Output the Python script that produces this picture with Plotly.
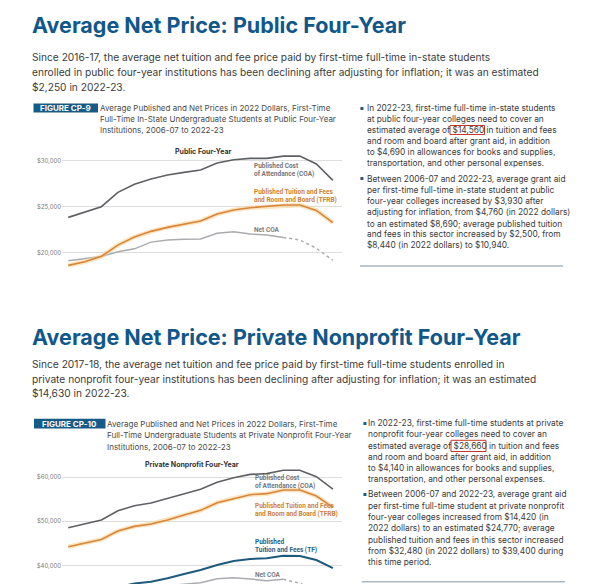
import plotly.graph_objects as go

W, H = 600, 584

years = ["2006-07", "2007-08", "2008-09", "2009-10", "2010-11", "2011-12", "2012-13",
         "2013-14", "2014-15", "2015-16", "2016-17", "2017-18", "2018-19", "2019-20",
         "2020-21", "2021-22", "2022-23"]

# Public four-year (2022 dollars)
pub_coa = [23840, 24420, 25000, 26560, 27430, 28010, 28440, 28730, 28990, 29750, 30110,
           30250, 30250, 30500, 30500, 29640, 27860]
pub_tfrb = [18620, 19020, 19600, 20830, 21700, 22320, 22750, 23120, 23440, 24200, 24640,
            24890, 25000, 25180, 25180, 24600, 23260]
pub_net = [19120, 19350, 19580, 20110, 20420, 21150, 21380, 21460, 21500, 22120, 22290,
           22040, 21920, 21660, 21380, 20480, 19180]

# Private nonprofit four-year (2022 dollars)
priv_coa = [48520, 49430, 50260, 52380, 53510, 54110, 55170, 56300, 57210, 58790, 59850,
            60600, 60760, 61510, 61510, 60080, 57280]
priv_tfrb = [44220, 45130, 45880, 47770, 48830, 49360, 50260, 51390, 52450, 54190, 55170,
             56000, 56230, 57060, 57060, 55700, 53130]
priv_tf = [32480, 33200, 33900, 35100, 35900, 36310, 37080, 38050, 38960, 40090, 41000,
           41450, 41600, 42200, 42130, 41220, 39390]
priv_net = [34100, 34300, 34500, 34700, 34900, 35100, 35400, 35750, 36090, 36990, 37220,
            36920, 36540, 36850, 35950, 34400, 32500]

net_est_start = 13  # first year drawn as estimate (dotted)

pub_ticks = [20000, 25000, 30000]
pub_ticktext = ["$20,000", "$25,000", "$30,000"]
priv_ticks = [40000, 50000, 60000]
priv_ticktext = ["$40,000", "$50,000", "$60,000"]

C_COA = "#5e6064"
C_TFRB = "#d7863b"
C_GLOW = "rgba(248,206,140,0.55)"
C_NET = "#a9abae"
C_TF = "#1d5a7c"
C_TITLE = "#11578a"
C_TEXT = "#3b3b3b"
BODY = "Inter"
COND = "Liberation Sans Narrow, Roboto"


def px(x):
    return x / W


def py(y):
    return 1 - y / H


fig = go.Figure()


def line(xv, yv, color, width, xa, ya, dash="solid"):
    fig.add_trace(go.Scatter(x=xv, y=yv, mode="lines", xaxis=xa, yaxis=ya,
                             line=dict(color=color, width=width, dash=dash),
                             hoverinfo="skip", showlegend=False))


# top chart
line(years[:net_est_start + 1], pub_net[:net_est_start + 1], C_NET, 1.5, "x", "y")
line(years[net_est_start:], pub_net[net_est_start:], C_NET, 1.5, "x", "y", "dot")
line(years, pub_tfrb, C_GLOW, 4.5, "x", "y")
line(years, pub_tfrb, C_TFRB, 1.6, "x", "y")
line(years, pub_coa, C_COA, 1.6, "x", "y")

# bottom chart
line(years[:net_est_start + 1], priv_net[:net_est_start + 1], C_NET, 1.5, "x2", "y2")
line(years[net_est_start:], priv_net[net_est_start:], C_NET, 1.5, "x2", "y2", "dot")
line(years, priv_tf, C_TF, 2.0, "x2", "y2")
line(years, priv_tfrb, C_GLOW, 4.5, "x2", "y2")
line(years, priv_tfrb, C_TFRB, 1.6, "x2", "y2")
line(years, priv_coa, C_COA, 1.6, "x2", "y2")

xcommon = dict(type="category", range=[-0.38, 16.55], showticklabels=False, showgrid=False,
               zeroline=False, showline=False, ticks="", domain=[px(62), px(342)])
ycommon = dict(showline=False, zeroline=False, ticks="", gridcolor="#dedede", gridwidth=1,
               tickfont=dict(family=BODY, size=6, color="#7a7a7a"))

fig.update_layout(
    width=W, height=H, margin=dict(l=0, r=0, t=0, b=0),
    paper_bgcolor="white", plot_bgcolor="white", hovermode=False,
    xaxis=dict(xcommon, anchor="y"),
    yaxis=dict(ycommon, anchor="x", domain=[py(270), py(155)], range=[18120, 30620],
               tickvals=pub_ticks, ticktext=pub_ticktext),
    xaxis2=dict(xcommon, anchor="y2"),
    yaxis2=dict(ycommon, anchor="x2", domain=[0, py(467)], range=[35792, 62262],
                tickvals=priv_ticks, ticktext=priv_ticktext),
)

anns = []


def ann(x, y, text, size, color, family=BODY, bold=False, xanchor="left"):
    anns.append(dict(x=px(x), y=py(y), xref="paper", yref="paper", text=text,
                     showarrow=False, xanchor=xanchor, yanchor="middle",
                     font=dict(family=family, size=size, color=color,
                               weight=700 if bold else 400)))


# Titles
ann(30, 25, "Average Net Price: Public Four-Year", 21.5, C_TITLE, bold=True)
ann(30, 337, "Average Net Price: Private Nonprofit Four-Year", 21.5, C_TITLE, bold=True)

# Intro paragraphs
p1 = ["Since 2016-17, the average net tuition and fee price paid by first-time full-time in-state students",
      "enrolled in public four-year institutions has been declining after adjusting for inflation; it was an estimated",
      "$2,250 in 2022-23."]
for i, t in enumerate(p1):
    ann(30, 56.6 + 15 * i, t, 10.2, C_TEXT)
p2 = ["Since 2017-18, the average net tuition and fee price paid by first-time full-time students enrolled in",
      "private nonprofit four-year institutions has been declining after adjusting for inflation; it was an estimated",
      "$14,630 in 2022-23."]
for i, t in enumerate(p2):
    ann(30, 363.5 + 15 * i, t, 10.2, C_TEXT)

# Figure labels
shapes = []
shapes.append(dict(type="rect", xref="paper", yref="paper", x0=px(33.5), x1=px(98),
                   y0=py(112.5), y1=py(103.5), fillcolor="#165a87", line=dict(width=0)))
shapes.append(dict(type="rect", xref="paper", yref="paper", x0=px(34), x1=px(105.5),
                   y0=py(428.5), y1=py(418.8), fillcolor="#165a87", line=dict(width=0)))
ann(65.75, 108.2, "FIGURE CP-9", 8, "white", bold=True, xanchor="center")
ann(69.75, 423.6, "FIGURE CP-10", 8, "white", bold=True, xanchor="center")

cap1 = ["Average Published and Net Prices in 2022 Dollars, First-Time",
        "Full-Time In-State Undergraduate Students at Public Four-Year",
        "Institutions, 2006-07 to 2022-23"]
for i, t in enumerate(cap1):
    ann(98, 108.3 + 11 * i, t, 8, "#4a4a4a")
cap2 = ["Average Published and Net Prices in 2022 Dollars, First-Time",
        "Full-Time Undergraduate Students at Private Nonprofit Four-Year",
        "Institutions, 2006-07 to 2022-23"]
for i, t in enumerate(cap2):
    ann(105.3, 423.5 + 11.8 * i, t, 8, "#4a4a4a")

# Chart titles
ann(203, 152, "Public Four-Year", 7, "#333333", bold=True, xanchor="center")
ann(192, 464, "Private Nonprofit Four-Year", 7, "#333333", bold=True, xanchor="center")

# Series labels
ann(252, 165.7, "Published Cost", 6.5, "#75767a", COND, True)
ann(252, 174.3, "of Attendance (COA)", 6.5, "#75767a", COND, True)
ann(252, 191.7, "Published Tuition and Fees", 6.5, "#cf7f36", COND, True)
ann(252, 200.3, "and Room and Board (TFRB)", 6.5, "#cf7f36", COND, True)
ann(252, 229.7, "Net COA", 6.5, "#7d7e81", COND, True)

ann(253, 478, "Published Cost", 6.5, "#75767a", COND, True)
ann(253, 485.7, "of Attendance (COA)", 6.5, "#75767a", COND, True)
ann(253, 505.7, "Published Tuition and Fees", 6.5, "#cf7f36", COND, True)
ann(253, 513.7, "and Room and Board (TFRB)", 6.5, "#cf7f36", COND, True)
ann(253, 542.3, "Published", 6.5, "#1f5f86", COND, True)
ann(253, 550.3, "Tuition and Fees (TF)", 6.5, "#1f5f86", COND, True)
ann(253, 575, "Net COA", 6.5, "#7d7e81", COND, True)

# Bullets
b1 = ["In 2022-23, first-time full-time in-state students",
      "at public four-year colleges need to cover an",
      "estimated average of $14,560 in tuition and fees",
      "and room and board after grant aid, in addition",
      "to $4,690 in allowances for books and supplies,",
      "transportation, and other personal expenses."]
b1y = [108.3, 119, 129.7, 140.7, 151.7, 163]
b2 = ["Between 2006-07 and 2022-23, average grant aid",
      "per first-time full-time in-state student at public",
      "four-year colleges increased by $3,930 after",
      "adjusting for inflation, from $4,760 (in 2022 dollars)",
      "to an estimated $8,690; average published tuition",
      "and fees in this sector increased by $2,500, from",
      "$8,440 (in 2022 dollars) to $10,940."]
b2y = [179, 189.7, 201, 212.3, 223.7, 234.3, 245]
for t, y in zip(b1, b1y):
    ann(364.7, y, t, 8.35, C_TEXT)
for t, y in zip(b2, b2y):
    ann(364.7, y, t, 8.35, C_TEXT)
ann(361.7, b1y[0], "■", 4, "#1d5a86", xanchor="center")
ann(361.7, b2y[0], "■", 4, "#1d5a86", xanchor="center")

b3 = ["In 2022-23, first-time full-time students at private",
      "nonprofit four-year colleges need to cover an",
      "estimated average of $28,660 in tuition and fees",
      "and room and board after grant aid, in addition",
      "to $4,140 in allowances for books and supplies,",
      "transportation, and other personal expenses."]
b3y = [423.3, 434.3, 445.7, 456.7, 467.7, 479]
b4 = ["Between 2006-07 and 2022-23, average grant aid",
      "per first-time full-time student at private nonprofit",
      "four-year colleges increased from $14,420 (in",
      "2022 dollars) to an estimated $24,770; average",
      "published tuition and fees in this sector increased",
      "from $32,480 (in 2022 dollars) to $39,400 during",
      "this time period."]
b4y = [494.3, 505.7, 516.7, 528.3, 539.7, 550.7, 562]
for t, y in zip(b3, b3y):
    ann(366.3, y, t, 8.35, C_TEXT)
for t, y in zip(b4, b4y):
    ann(366.3, y, t, 8.35, C_TEXT)
ann(365, b3y[0], "■", 4, "#1d5a86", xanchor="center")
ann(365, b4y[0], "■", 4, "#1d5a86", xanchor="center")

# highlight boxes and separators
shapes.append(dict(type="rect", xref="paper", yref="paper", x0=px(450), x1=px(484.5),
                   y0=py(134.5), y1=py(125.5), line=dict(color="#c0392b", width=1)))
shapes.append(dict(type="rect", xref="paper", yref="paper", x0=px(451), x1=px(486),
                   y0=py(451.5), y1=py(440.3), line=dict(color="#c0392b", width=1)))
shapes.append(dict(type="line", xref="paper", yref="paper", x0=px(360), x1=px(563),
                   y0=py(266), y1=py(266), line=dict(color="#a9b8c4", width=1.5)))
shapes.append(dict(type="line", xref="paper", yref="paper", x0=px(361.7), x1=px(565),
                   y0=py(581.7), y1=py(581.7), line=dict(color="#a9b8c4", width=1.5)))

fig.update_layout(annotations=anns, shapes=shapes)
fig.write_html("out.html", config={"displayModeBar": False, "staticPlot": True},
               post_script="document.body.style.margin='0';document.body.style.overflow='hidden';")
